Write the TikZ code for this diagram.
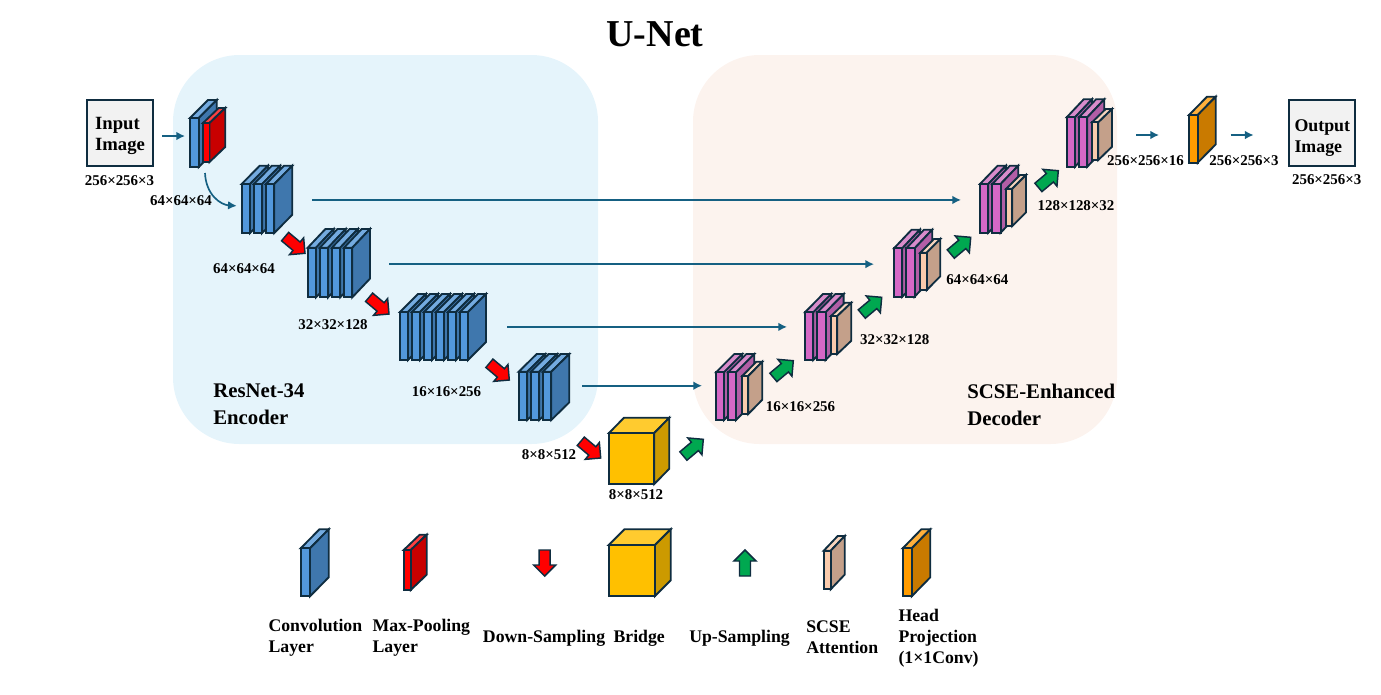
\documentclass[tikz,border=0pt]{standalone}
\usepackage{fontspec}
\setmainfont{Liberation Serif}
\usetikzlibrary{arrows.meta,calc}
\definecolor{ink}{HTML}{0F2D40}
\definecolor{flowc}{HTML}{156082}
\definecolor{panelA}{HTML}{E5F4FB}
\definecolor{panelB}{HTML}{FCF3EE}
\definecolor{convF}{HTML}{5298DC}\definecolor{convT}{HTML}{74ABE0}\definecolor{convS}{HTML}{3F77AD}
\definecolor{poolF}{HTML}{FF0000}\definecolor{poolT}{HTML}{FF4040}\definecolor{poolS}{HTML}{C80000}
\definecolor{pinkF}{HTML}{D568C6}\definecolor{pinkT}{HTML}{D88CCB}\definecolor{pinkS}{HTML}{B25EA6}
\definecolor{scseF}{HTML}{F8CBAD}\definecolor{scseT}{HTML}{F8D5BD}\definecolor{scseS}{HTML}{C4A08A}
\definecolor{brgF}{HTML}{FFC000}\definecolor{brgT}{HTML}{FFCB2F}\definecolor{brgS}{HTML}{CC9A00}
\definecolor{headF}{HTML}{FF9C00}\definecolor{headT}{HTML}{FFB03B}\definecolor{headS}{HTML}{C97A00}
\definecolor{upg}{HTML}{00A850}
\tikzset{
  blk/.style={draw=ink,line width=1.4pt,line join=miter},
  barrow/.style={draw=ink,line width=1.1pt,line join=miter},
  flow/.style={draw=flowc,line width=1.25pt,-{Latex[length=6.5pt,width=6.5pt]}},
  panel/.style={rounded corners=50pt,draw=none},
  dim/.style={inner sep=0pt,font=\fontsize{11.2}{13}\selectfont\bfseries},
  legend/.style={inner sep=0pt,anchor=west,align=left,font=\fontsize{13.3}{15.8}\selectfont\bfseries},
  heading/.style={inner sep=0pt,anchor=west,align=left,font=\fontsize{15.6}{20.2}\selectfont\bfseries},
  iobox/.style={draw=ink,line width=1.5pt,fill=black!5,inner sep=0pt,
    minimum width=49.5pt,minimum height=49.5pt},
}
% x, y (top-left of front face), w, h, dx, dy, colour family
\newcommand{\cub}[7]{%
  \draw[blk,fill=#7T] (#1,#2) -- ++(#5,-#6) -- ++(#3,0) -- ++(-#5,#6) -- cycle;
  \draw[blk,fill=#7S] ({#1+#3},#2) -- ++(#5,-#6) -- ++(0,#4) -- ++(-#5,#6) -- cycle;
  \draw[blk,fill=#7F] (#1,#2) rectangle ++(#3,#4);}
% n layers: n, x, step, y, w, h, dx, dy, family
\newcommand{\stk}[9]{%
  \foreach \i in {1,...,#1}{\pgfmathsetmacro{\xx}{#2+(\i-1)*#3}\cub{\xx}{#4}{#5}{#6}{#7}{#8}{#9}}}
% invisible extent of a stack: name, x1, y1, x2, y2
\newcommand{\extent}[5]{%
  \node[inner sep=0pt,outer sep=0pt,minimum width={(#4-#2)*0.75pt},minimum height={(#5-#3)*0.75pt}]
    (#1) at ({(#2+#4)/2},{(#3+#5)/2}) {};}
% block arrow: tip x, tip y, angle, fill
\newcommand{\barr}[4]{%
  \begin{scope}[shift={(#1,#2)},rotate=#3]
  \draw[barrow,fill=#4] (0,0) -- (-11,11) -- (-11,5.5) -- (-26,5.5) -- (-26,-5.5) -- (-11,-5.5) -- (-11,-11) -- cycle;
  \end{scope}}
\begin{document}
\begin{tikzpicture}[x=0.75pt,y=-0.75pt]
\useasboundingbox (0,0) rectangle (1381,694);
\fill[panelA,panel] (173,55) rectangle (598,444);
\fill[panelB,panel] (693,55) rectangle (1117,444);
\node[inner sep=0pt,font=\fontsize{28.5}{30}\selectfont\bfseries] (title) at (655,34) {U-Net};
\node[iobox,font=\fontsize{14}{15.8}\selectfont\bfseries] (input) at (120,133) {\raisebox{-2.3pt}[\height][\depth]{\begin{tabular}{@{}l@{}}Input\\Image\end{tabular}}};
\node[iobox,font=\fontsize{13.4}{15.8}\selectfont\bfseries] (output) at (1322.3,133) {\raisebox{-3.4pt}[\height][\depth]{\begin{tabular}{@{}l@{}}Output\\Image\end{tabular}}};
% encoder
\stk{1}{190}{12}{118}{8.7}{49}{18}{18}{conv}
\stk{1}{203}{12}{123}{6.5}{39}{15.7}{15}{pool}
\extent{enc1}{190}{100}{225}{167}
\stk{3}{241.7}{12.15}{184}{8.3}{49}{18}{18.3}{conv}
\extent{enc2}{241.7}{165.7}{292}{233}
\stk{4}{307.7}{12.1}{247.7}{8.3}{49.6}{17.7}{18.7}{conv}
\extent{enc3}{307.7}{229}{370}{297.3}
\stk{6}{400}{12}{312}{8}{48}{18}{18}{conv}
\extent{enc4}{400}{294}{486}{360}
\stk{3}{518.7}{12}{371.7}{8.6}{48.3}{18}{17.7}{conv}
\extent{enc5}{518.7}{354}{569.3}{420}
% bridge
\cub{609}{433}{45.3}{51}{15}{15.3}{brg}
% decoder
\stk{2}{716}{12}{372.3}{8}{47.7}{18.3}{18.3}{pink}
\cub{742.3}{376}{6}{38}{14}{14.3}{scse}
\extent{dec1}{716}{354}{762.3}{420}
\stk{2}{805}{12.3}{312.3}{8.3}{47.7}{18}{18.3}{pink}
\cub{831}{316}{6.3}{38}{14}{13.3}{scse}
\extent{dec2}{805}{294}{851.3}{360}
\stk{2}{894}{12.3}{248.3}{8.3}{48.4}{17.6}{18.6}{pink}
\cub{920.3}{252.7}{6.4}{37.3}{13.6}{13.7}{scse}
\extent{dec3}{894}{229.7}{940.3}{296.7}
\stk{2}{980}{12.3}{184}{8.3}{48.7}{17.6}{18.3}{pink}
\cub{1006.3}{188.7}{6}{37.3}{13.7}{13.7}{scse}
\extent{dec4}{980}{165.7}{1026}{232.7}
\stk{2}{1066.7}{12.3}{117.3}{8.3}{49.4}{17}{18}{pink}
\cub{1092}{122.3}{6.3}{37.7}{13.7}{13.3}{scse}
\extent{dec5}{1066.7}{99.3}{1112}{166.7}
\cub{1189}{115}{8.7}{47.7}{18}{18.3}{head}
\extent{head}{1189}{96.7}{1215.7}{162.7}
% connectors
\draw[flow] ($(input.east)+(8,3)$) -- ($(enc1.west)+(-5,2.5)$);
\draw[flow] ($(enc1.south)+(-2.5,6)$) .. controls +(1,22) and +(-16,-1) .. ($(enc2.west)+(-5,6.5)$);
\draw[flow] ($(enc2.east)+(20,0.6)$) -- ($(enc2.east -| dec4.west)+(-19,0.6)$);
\draw[flow] ($(enc3.east)+(19,1)$) -- ($(enc3.east -| dec3.west)+(-20,1)$);
\draw[flow] ($(enc4.east)+(21,-0.1)$) -- ($(enc4.east -| dec2.west)+(-18,-0.1)$);
\draw[flow] ($(enc5.east)+(13,-1.3)$) -- ($(enc5.east -| dec1.west)+(-14,-1.3)$);
\draw[flow] ($(dec5.east)+(24,2)$) -- ($(dec5.east -| head.west)+(-30,2)$);
\draw[flow] ($(head.east)+(15,5.3)$) -- ($(head.east -| output.west)+(-34.7,5.3)$);
% down / up sampling
\barr{305}{253.3}{-40}{red}
\barr{389}{314}{-40}{red}
\barr{509.3}{380}{-40}{red}
\barr{600.7}{458}{-40}{red}
\barr{703.3}{439.3}{40}{upg}
\barr{793.3}{360.7}{40}{upg}
\barr{881.7}{297.3}{40}{upg}
\barr{970.7}{237.3}{40}{upg}
\barr{1058.3}{170.7}{40}{upg}
% dimensions
\node[dim] (d1) at (119.5,181) {256×256×3};
\node[dim] (d2) at (181,200.7) {64×64×64};
\node[dim] (d3) at (244,269) {64×64×64};
\node[dim] (d4) at (333,325) {32×32×128};
\node[dim] (d5) at (446.5,391.7) {16×16×256};
\node[dim] (d6) at (549,455) {8×8×512};
\node[dim] (d7) at (636,494.7) {8×8×512};
\node[dim] (d8) at (800.5,406.7) {16×16×256};
\node[dim] (d9) at (894.7,339.3) {32×32×128};
\node[dim] (d10) at (977.3,279.3) {64×64×64};
\node[dim] (d11) at (1076,205.7) {128×128×32};
\node[dim] (d12) at (1145.5,160.7) {256×256×16};
\node[dim] (d13) at (1244,160.7) {256×256×3};
\node[dim] (d14) at (1326.7,179.3) {256×256×3};
\node[heading] (encl) at (213,404.5) {ResNet-34\\Encoder};
\node[heading] (decl) at (967,404.5) {SCSE-Enhanced\\Decoder};
% legend
\cub{300.7}{548.3}{9.3}{48}{18.7}{19}{conv}
\cub{403.7}{550}{7}{40}{16}{15.3}{pool}
\barr{544.7}{576}{-90}{red}
\cub{608.7}{545}{46.3}{51}{15.7}{15.7}{brg}
\barr{745}{550}{90}{upg}
\cub{823.7}{550.7}{7}{38.6}{14}{14.7}{scse}
\cub{902.7}{548.3}{9}{48}{18.6}{19}{head}
\node[legend] (l1) at (268.3,638) {Convolution\\Layer};
\node[legend] (l2) at (372.3,638) {Max-Pooling\\Layer};
\node[legend] (l3) at (482.7,638.7) {Down-Sampling};
\node[legend] (l4) at (613.3,638.7) {Bridge};
\node[legend] (l5) at (689,638.7) {Up-Sampling};
\node[legend] (l6) at (806,637) {SCSE\\Attention};
\node[legend] (l7) at (898.3,638.5) {Head\\Projection\\(1×1Conv)};
\end{tikzpicture}
\end{document}
